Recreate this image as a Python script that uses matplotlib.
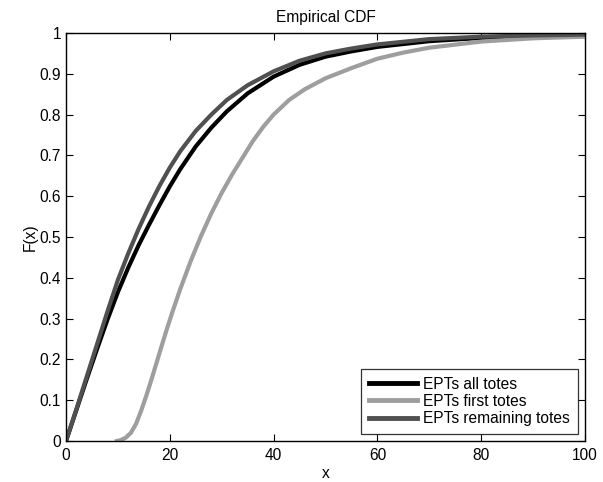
import matplotlib
matplotlib.use("Agg")
import matplotlib.pyplot as plt

plt.rcParams['font.family'] = ['Liberation Sans', 'DejaVu Sans']

# Series
all_x = [0, 2, 4, 6, 8, 10, 12, 14, 16, 18, 20, 22, 25, 28, 31, 35, 40, 45, 50, 55, 60, 70, 80, 90, 100]
all_F = [0, 0.076, 0.152, 0.226, 0.298, 0.365, 0.425, 0.48, 0.53, 0.578, 0.624, 0.666, 0.722, 0.768,
         0.808, 0.852, 0.893, 0.922, 0.942, 0.955, 0.966, 0.980, 0.988, 0.993, 0.995]

first_x = [9.8, 10.5, 11.5, 12.5, 13.5, 14.5, 15.5, 16.5, 17.5, 18.5, 19.5, 20.5, 22, 24, 26, 28, 30,
           32, 34, 36, 38, 40, 43, 46, 50, 55, 60, 65, 70, 80, 90, 100]
first_F = [0, 0.002, 0.008, 0.02, 0.042, 0.075, 0.112, 0.152, 0.194, 0.236, 0.277, 0.316, 0.372, 0.44,
           0.502, 0.558, 0.608, 0.653, 0.694, 0.735, 0.77, 0.80, 0.836, 0.862, 0.889, 0.914, 0.937,
           0.952, 0.964, 0.979, 0.987, 0.991]

rem_x = [0, 2, 4, 6, 8, 10, 12, 14, 16, 18, 20, 22, 25, 28, 31, 35, 40, 45, 50, 55, 60, 70, 80, 90, 100]
rem_F = [0, 0.078, 0.158, 0.238, 0.318, 0.395, 0.46, 0.52, 0.575, 0.625, 0.67, 0.71, 0.76, 0.80,
         0.836, 0.872, 0.906, 0.932, 0.950, 0.962, 0.972, 0.985, 0.991, 0.994, 0.996]

labels = ['EPTs all totes', 'EPTs first totes', 'EPTs remaining totes']
xticks = [0, 20, 40, 60, 80, 100]
yticks = [0, 0.1, 0.2, 0.3, 0.4, 0.5, 0.6, 0.7, 0.8, 0.9, 1]
yticklabels = ['0', '0.1', '0.2', '0.3', '0.4', '0.5', '0.6', '0.7', '0.8', '0.9', '1']

fs = 11.2

fig = plt.figure(figsize=(6.03, 4.82), dpi=100)
ax = fig.add_axes([66/603, 1 - 441/482, (585-66)/603, (441-33)/482])

lw = 3.0
ax.plot(all_x, all_F, color='black', lw=lw, label=labels[0])
ax.plot(first_x, first_F, color='#9e9e9e', lw=lw, label=labels[1])
ax.plot(rem_x, rem_F, color='#505050', lw=lw, label=labels[2])

ax.set_xlim(0, 100)
ax.set_ylim(0, 1)
ax.set_xticks(xticks)
ax.set_xticklabels([str(t) for t in xticks])
ax.set_yticks(yticks)
ax.set_yticklabels(yticklabels)
ax.tick_params(direction='in', length=5, width=0.8, top=True, right=True,
               labelsize=fs, colors='black')
ax.tick_params(axis='x', pad=5)
ax.tick_params(axis='y', pad=3.5)
for s in ax.spines.values():
    s.set_linewidth(1.0)
    s.set_color('black')

ax.set_title('Empirical CDF', fontsize=fs, pad=8)
ax.set_xlabel('x', fontsize=fs, labelpad=2)
ax.set_ylabel('F(x)', fontsize=fs, labelpad=1.5)

leg = ax.legend(loc='lower right', fontsize=fs, frameon=True, fancybox=False,
                edgecolor='black', handlelength=3.1, handletextpad=0.4,
                borderaxespad=0.45, borderpad=0.5, labelspacing=0.15)
leg.get_frame().set_linewidth(0.9)
for line in leg.get_lines():
    line.set_linewidth(3.5)

fig.savefig('out.png', dpi=100)
